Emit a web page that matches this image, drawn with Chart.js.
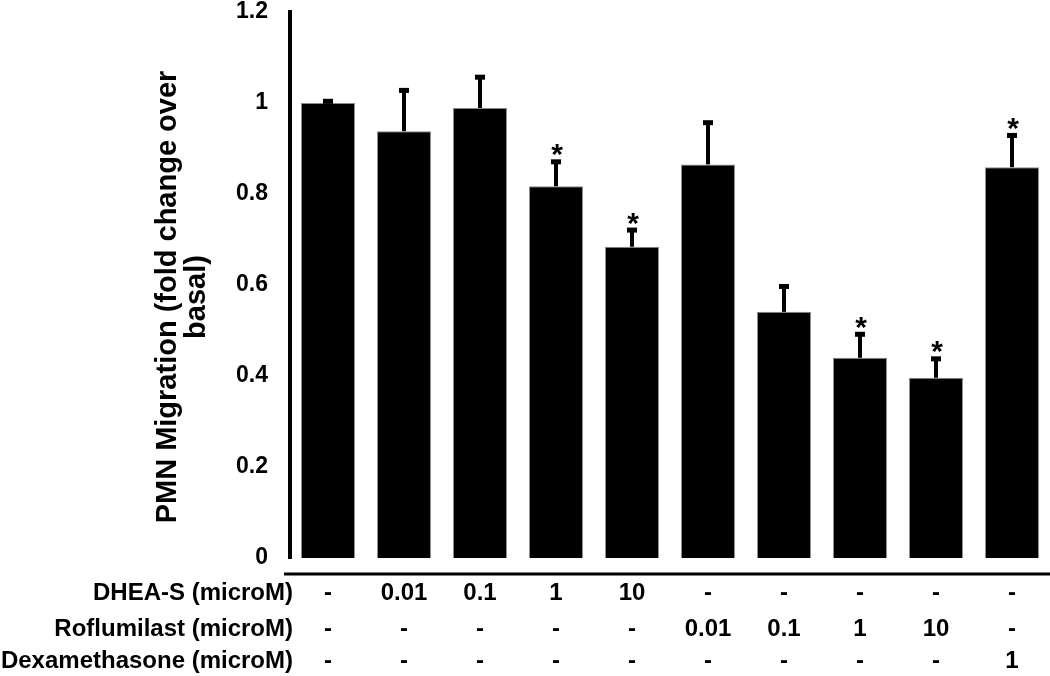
<!DOCTYPE html>
<html>
<head>
<meta charset="utf-8">
<script src="https://cdn.jsdelivr.net/npm/chart.js@4/dist/chart.umd.min.js"></script>
<style>
    body { margin: 0; background: #fff; }
    #wrap { width: 1050px; height: 676px; position: relative; }
</style>
</head>
<body>
<div id="wrap"><canvas id="migrationChart"></canvas></div>
<script>
// Data
const groups = ['G1', 'G2', 'G3', 'G4', 'G5', 'G6', 'G7', 'G8', 'G9', 'G10'];
const means = [1.0, 0.938, 0.989, 0.817, 0.684, 0.865, 0.541, 0.44, 0.396, 0.859];
const sem = [0.007, 0.093, 0.071, 0.057, 0.04, 0.095, 0.059, 0.055, 0.045, 0.073];
const significant = [false, false, false, true, true, false, false, true, true, true];

const rowLabels = ['DHEA-S (microM)', 'Roflumilast (microM)', 'Dexamethasone (microM)'];
const dhea = ['-', '0.01', '0.1', '1', '10', '-', '-', '-', '-', '-'];
const roflumilast = ['-', '-', '-', '-', '-', '0.01', '0.1', '1', '10', '-'];
const dexamethasone = ['-', '-', '-', '-', '-', '-', '-', '-', '-', '1'];

const yTitle = ['PMN Migration (fold change over', 'basal)'];
const FONT = '"Liberation Sans", Arial, sans-serif';

// Error bars, asterisks, axis line, treatment table and y title
const extras = {
    id: 'extras',
    afterDatasetsDraw(chart) {
        const ctx = chart.ctx;
        const x = chart.scales.x;
        const y = chart.scales.y;
        const area = chart.chartArea;

        ctx.save();
        ctx.fillStyle = '#000';
        ctx.strokeStyle = '#000';

        means.forEach((m, i) => {
            const cx = x.getPixelForValue(i);
            const yBar = y.getPixelForValue(m);
            const yTop = y.getPixelForValue(m + sem[i]);
            ctx.lineWidth = 4;
            ctx.beginPath();
            ctx.moveTo(cx, yBar);
            ctx.lineTo(cx, yTop);
            ctx.stroke();
            ctx.fillRect(cx - 5, yTop - 1, 10, 5);

            if (significant[i]) {
                ctx.font = 'bold 30px ' + FONT;
                ctx.textAlign = 'center';
                ctx.textBaseline = 'alphabetic';
                ctx.fillText('*', cx + 1, yTop + 4);
            }
        });

        // x axis line sits a bit below the bars
        ctx.lineWidth = 3;
        ctx.beginPath();
        ctx.moveTo(area.left - 6, area.bottom + 16);
        ctx.lineTo(chart.width, area.bottom + 16);
        ctx.stroke();

        // treatment table
        const rows = [dhea, roflumilast, dexamethasone];
        const baselines = [area.bottom + 42, area.bottom + 78, area.bottom + 110];
        ctx.font = 'bold 24px ' + FONT;
        ctx.textBaseline = 'alphabetic';
        rows.forEach((row, r) => {
            ctx.textAlign = 'right';
            ctx.fillText(rowLabels[r], area.left + 3, baselines[r]);
            ctx.textAlign = 'center';
            row.forEach((v, i) => {
                ctx.fillText(v, x.getPixelForValue(i), baselines[r]);
            });
        });

        // y axis title, two rotated lines
        ctx.font = 'bold 29px ' + FONT;
        ctx.textAlign = 'center';
        ctx.textBaseline = 'middle';
        yTitle.forEach((line, k) => {
            ctx.save();
            ctx.translate(168 + k * 29, (area.top + area.bottom) / 2 + 12);
            ctx.rotate(-Math.PI / 2);
            ctx.fillText(line, 0, 0);
            ctx.restore();
        });

        ctx.restore();
    }
};

const chartCtx = document.getElementById('migrationChart').getContext('2d');
new Chart(chartCtx, {
    type: 'bar',
    data: {
        labels: groups,
        datasets: [{
            data: means,
            backgroundColor: '#000',
            borderColor: '#8a8a8a',
            borderWidth: 1,
            barPercentage: 0.71,
            categoryPercentage: 1.0
        }]
    },
    options: {
        responsive: true,
        maintainAspectRatio: false,
        animation: false,
        layout: { padding: { top: 12, bottom: 118, left: 0, right: 0 } },
        plugins: {
            legend: { display: false },
            tooltip: { enabled: false }
        },
        scales: {
            x: {
                display: false
            },
            y: {
                min: 0,
                max: 1.2,
                afterFit: (scale) => {
                    scale.width = 290;
                    scale.paddingTop = 0;
                    scale.paddingBottom = 0;
                },
                ticks: {
                    stepSize: 0.2,
                    color: '#000',
                    padding: 22,
                    font: { family: FONT, size: 23, weight: 'bold' },
                    callback: (v) => String(+v.toFixed(1))
                },
                grid: { display: false, drawTicks: false },
                border: { display: true, color: '#000', width: 4 }
            }
        }
    },
    plugins: [extras]
});
</script>
</body>
</html>
